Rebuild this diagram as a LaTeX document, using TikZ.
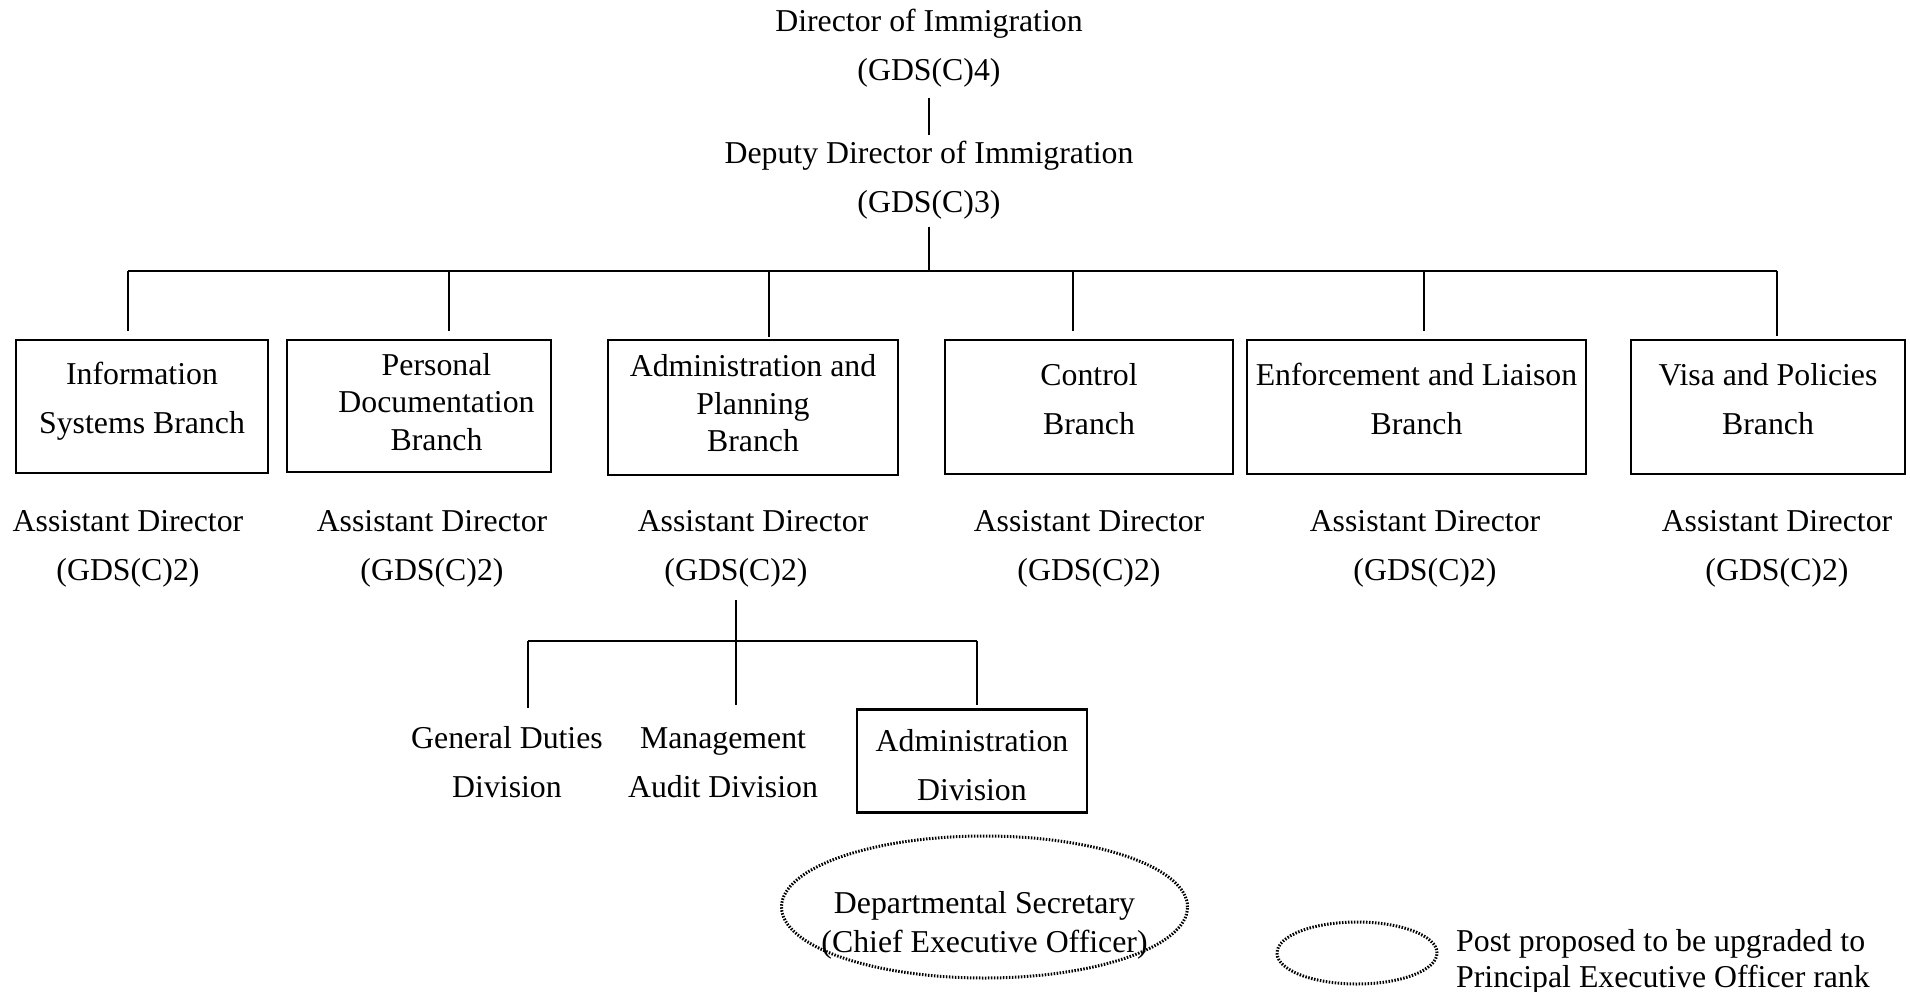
\documentclass[tikz,border=0pt]{standalone}
\usepackage{fontspec}
\setmainfont{Liberation Serif}
\usetikzlibrary{shapes.geometric}
\newcommand\fsA{\fontsize{31.8}{49}\selectfont}
\newcommand\fsB{\fontsize{31.8}{37.5}\selectfont}
\newcommand\fsC{\fontsize{31.8}{39}\selectfont}
\newcommand\fsD{\fontsize{31.8}{36}\selectfont}
\begin{document}
\begin{tikzpicture}[x=1pt,y=-1pt,
  lbl/.style={align=center,font=\fsA,inner sep=5pt,text height=70pt,text depth=0pt},
  box/.style={draw,line width=2.6pt,align=center,inner sep=0pt,font=\fsA,text height=60pt,text depth=6pt},
  box3/.style={box,font=\fsB,text height=92pt,text depth=4pt},
  conn/.style={line width=2.4pt},
  thinconn/.style={line width=1.6pt},
  post/.style={ellipse,draw,line width=3pt,dash pattern=on 1.5pt off 1.5pt,inner sep=0pt}]
\useasboundingbox (0,0) rectangle (1910,992);

% top
\node[lbl] (dir) at (929,46) {Director of Immigration\\(GDS(C)4)};
\node[lbl] (dep) at (929,177.5) {Deputy Director of Immigration\\(GDS(C)3)};
\draw[thinconn,shorten <=12pt,shorten >=2pt] (dir.south) -- (dep.north);

% bus
\coordinate (b1) at (128,271);
\coordinate (b2) at (449,271);
\coordinate (b3) at (769,271);
\coordinate (b4) at (1073,271);
\coordinate (b5) at (1424,271);
\coordinate (b6) at (1777,271);
\draw[conn] (b1) -- (b6);
\draw[thinconn,shorten <=9pt] (dep.south) -- (dep.south |- b1);

% branches
\node[box,minimum width=252pt,minimum height=133pt] (is) at (142,406.5) {Information\\Systems Branch};
\node[box3,minimum width=264pt,minimum height=132pt] (pd) at (419,406) {\hspace*{35pt}Personal\\\hspace*{35pt}Documentation\\\hspace*{35pt}Branch};
\node[box3,minimum width=290pt,minimum height=135pt] (ap) at (753,407.5) {Administration and\\Planning\\Branch};
\node[box,minimum width=288pt,minimum height=134pt] (cb) at (1089,407) {Control\\Branch};
\node[box,minimum width=339pt,minimum height=134pt] (el) at (1416.5,407) {Enforcement and Liaison\\Branch};
\node[box,minimum width=274pt,minimum height=134pt] (vp) at (1768,407) {Visa and Policies\\Branch};

\draw[conn,shorten >=8pt] (b1) -- (b1 |- is.north);
\draw[conn,shorten >=8pt] (b2) -- (b2 |- pd.north);
\draw[conn,shorten >=2pt] (b3) -- (b3 |- ap.north);
\draw[conn,shorten >=8pt] (b4) -- (b4 |- cb.north);
\draw[conn,shorten >=8pt] (b5) -- (b5 |- el.north);
\draw[conn,shorten >=3pt] (b6) -- (b6 |- vp.north);

% assistant directors
\node[lbl] (a1) at (128,545) {Assistant Director\\(GDS(C)2)};
\node[lbl] (a2) at (432,545) {Assistant Director\\(GDS(C)2)};
\node[lbl] (a3) at (753,545) {Assistant Director\\(GDS(C)2)\hspace*{34pt}};
\node[lbl] (a4) at (1089,545) {Assistant Director\\(GDS(C)2)};
\node[lbl] (a5) at (1425,545) {Assistant Director\\(GDS(C)2)};
\node[lbl] (a6) at (1777,545) {Assistant Director\\(GDS(C)2)};

% sub tree
\coordinate (s0) at (736,641);
\coordinate (s1) at (528,641);
\coordinate (s3) at (977,641);
\coordinate (e1) at (528,708);
\coordinate (e2) at (736,705);
\node[lbl] (gd) at (507,762) {General Duties\\Division};
\node[lbl] (ma) at (723,762) {Management\\Audit Division};
\node[box,minimum width=230pt,minimum height=103pt,text height=80pt,text depth=1pt] (ad) at (972,761) {Administration\\Division};
\draw[conn] (s1) -- (s3);
\draw[conn] (s1) -- (e1);
\draw[conn,shorten <=15pt] (s0 |- a3.south) -- (e2);
\draw[conn,shorten >=3pt] (s3) -- (s3 |- ad.north);

% ellipse
\node[post,minimum width=406pt,minimum height=142pt,font=\fsC,align=center,text height=91pt,text depth=0pt,inner xsep=-25pt] (ds) at (984.5,907) {Departmental Secretary\\(Chief Executive Officer)};

% legend
\node[post,minimum width=160pt,minimum height=62pt] (lg) at (1357,953) {};
\node[font=\fsD,align=left,anchor=west,inner sep=5pt] (lt) at (1451,961.5) {Post proposed to be upgraded to\\Principal Executive Officer rank};
\end{tikzpicture}
\end{document}
